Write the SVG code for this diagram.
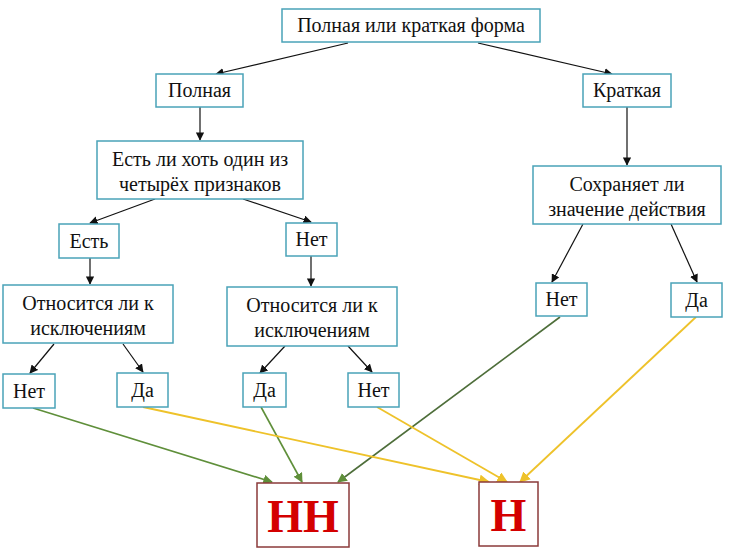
<svg xmlns="http://www.w3.org/2000/svg" width="730" height="558" viewBox="0 0 730 558">
<defs>
<style>
.box{fill:#ffffff;stroke:#4aa3b8;stroke-width:1.5}
.res{fill:#ffffff;stroke:#8b3a3a;stroke-width:1.5}
.t{font-family:"Liberation Serif","Times New Roman","DejaVu Serif",serif;font-size:20px;fill:#111;text-anchor:middle}
.big{font-family:"Liberation Serif","Times New Roman","DejaVu Serif",serif;font-size:46px;font-weight:bold;fill:#d40000;text-anchor:middle}
.k{stroke:#111;stroke-width:1.2;fill:none;marker-end:url(#ak)}
.g{stroke:#5f8f3a;stroke-width:1.6;fill:none;marker-end:url(#ag)}
.g2{stroke:#4e6e3a;stroke-width:1.6;fill:none;marker-end:url(#ag)}
.y{stroke:#eec22a;stroke-width:1.8;fill:none;marker-end:url(#ay)}
</style>
<marker id="ak" viewBox="0 0 10 10" refX="9" refY="5" markerWidth="7" markerHeight="7" orient="auto"><path d="M0,0 L10,5 L0,10 z" fill="#111"/></marker>
<marker id="ag" viewBox="0 0 10 10" refX="9" refY="5" markerWidth="6" markerHeight="6" orient="auto"><path d="M0,0 L10,5 L0,10 z" fill="#5f8f3a"/></marker>
<marker id="ay" viewBox="0 0 10 10" refX="9" refY="5" markerWidth="6" markerHeight="6" orient="auto"><path d="M0,0 L10,5 L0,10 z" fill="#eec22a"/></marker>
</defs>
<rect width="730" height="558" fill="#ffffff"/>
<g id="connectors">
<line class="k" x1="348" y1="43" x2="216" y2="74"/>
<line class="k" x1="478" y1="43" x2="612" y2="74"/>
<line class="k" x1="200" y1="107" x2="200" y2="140"/>
<line class="k" x1="627" y1="107" x2="627" y2="165"/>
<line class="k" x1="155" y1="199" x2="90" y2="223"/>
<line class="k" x1="243" y1="199" x2="311" y2="222"/>
<line class="k" x1="583" y1="224" x2="552" y2="282"/>
<line class="k" x1="671" y1="224" x2="697" y2="282"/>
<line class="k" x1="90" y1="258" x2="90" y2="284"/>
<line class="k" x1="311" y1="256" x2="311" y2="286"/>
<line class="k" x1="54" y1="344" x2="30" y2="373"/>
<line class="k" x1="123" y1="344" x2="143" y2="372"/>
<line class="k" x1="285" y1="346" x2="260" y2="373"/>
<line class="k" x1="348" y1="346" x2="372" y2="372"/>
<line class="g" x1="33" y1="408" x2="272" y2="482"/>
<line class="g" x1="261" y1="407" x2="302" y2="482"/>
<line class="g2" x1="560" y1="317" x2="338" y2="482"/>
<line class="y" x1="143" y1="407" x2="489" y2="482"/>
<line class="y" x1="377" y1="407" x2="507" y2="482"/>
<line class="y" x1="696" y1="317" x2="520" y2="482"/>
</g>
<g id="n-top"><rect class="box" x="282" y="9" width="258" height="33"/><text class="t" x="411" y="32">Полная или краткая форма</text></g>
<g id="n-polnaya"><rect class="box" x="156" y="74" width="87" height="33"/><text class="t" x="199.5" y="97">Полная</text></g>
<g id="n-kratkaya"><rect class="box" x="583" y="74" width="88" height="33"/><text class="t" x="627" y="97">Краткая</text></g>
<g id="n-est-li"><rect class="box" x="97" y="141" width="206" height="58"/><text class="t" x="200" y="166">Есть ли хоть один из</text><text class="t" x="200" y="191">четырёх признаков</text></g>
<g id="n-sohr"><rect class="box" x="533" y="166" width="188" height="58"/><text class="t" x="627" y="191">Сохраняет ли</text><text class="t" x="627" y="216">значение действия</text></g>
<g id="n-est"><rect class="box" x="59" y="224" width="60" height="34"/><text class="t" x="89" y="248">Есть</text></g>
<g id="n-net1"><rect class="box" x="286" y="223" width="51" height="33"/><text class="t" x="311.5" y="246">Нет</text></g>
<g id="n-otn1"><rect class="box" x="3" y="285" width="170" height="58"/><text class="t" x="88" y="310">Относится ли к</text><text class="t" x="88" y="335">исключениям</text></g>
<g id="n-otn2"><rect class="box" x="227" y="287" width="170" height="59"/><text class="t" x="312" y="312">Относится ли к</text><text class="t" x="312" y="337">исключениям</text></g>
<g id="n-net-r"><rect class="box" x="536" y="283" width="51" height="33"/><text class="t" x="561.5" y="306">Нет</text></g>
<g id="n-da-r"><rect class="box" x="671" y="283" width="51" height="34"/><text class="t" x="696.5" y="307">Да</text></g>
<g id="n-net2"><rect class="box" x="3" y="374" width="52" height="34"/><text class="t" x="29" y="398">Нет</text></g>
<g id="n-da2"><rect class="box" x="117" y="373" width="51" height="34"/><text class="t" x="142.5" y="397">Да</text></g>
<g id="n-da3"><rect class="box" x="243" y="373" width="43" height="34"/><text class="t" x="264.5" y="397">Да</text></g>
<g id="n-net3"><rect class="box" x="348" y="373" width="51" height="34"/><text class="t" x="373.5" y="397">Нет</text></g>
<g id="n-nn"><rect class="res" x="257" y="483" width="92" height="64"/><text class="big" x="303" y="532">НН</text></g>
<g id="n-n"><rect class="res" x="479" y="482" width="59" height="64"/><text class="big" x="508.5" y="531">Н</text></g>
</svg>
